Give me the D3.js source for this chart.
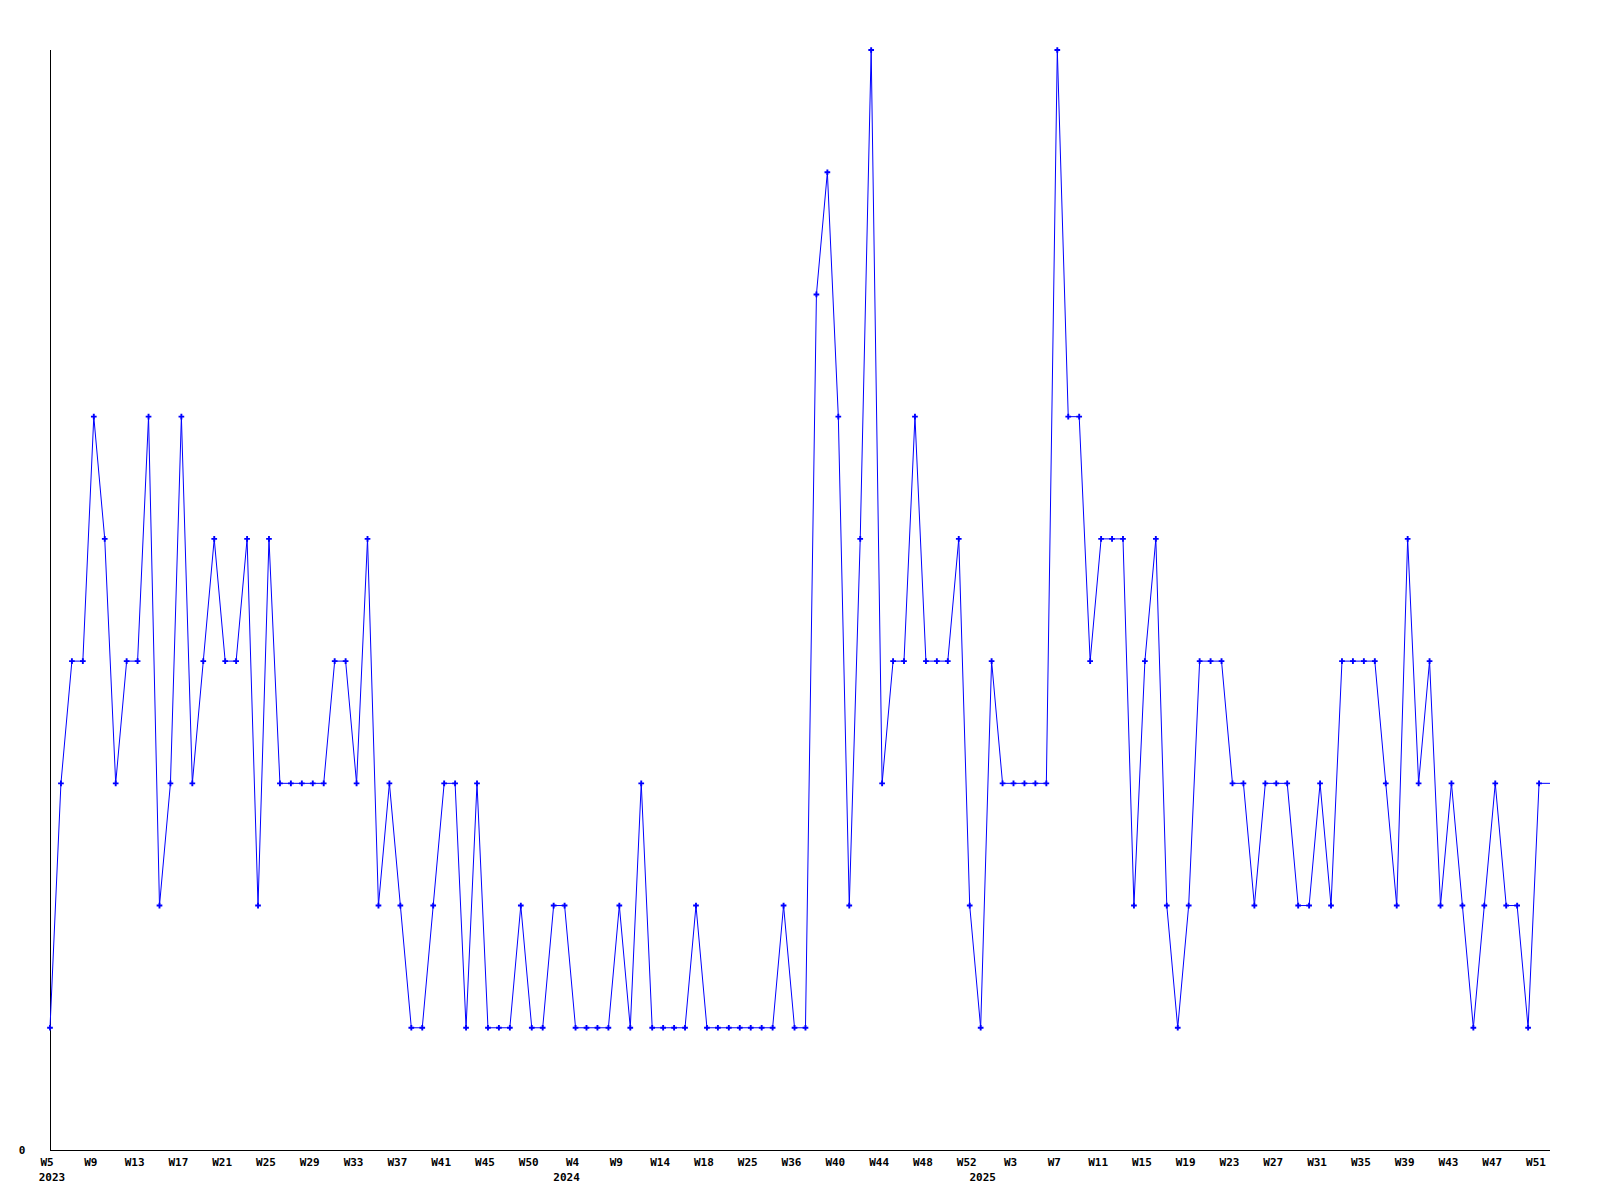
<!DOCTYPE html>
<html>
<head>
<meta charset="utf-8">
<script src="https://cdn.jsdelivr.net/npm/d3@7"></script>
<style>
  body { margin: 0; background: #fff; }
  text { font-family: "DejaVu Sans Mono", monospace; font-size: 11px; font-weight: bold; fill: #000; }
</style>
</head>
<body>
<script>

// weekly counts, one entry per category (weeks with no entry are not in the list)
var values = [1,3,4,4,6,5,3,4,4,6,2,3,6,3,4,5,4,4,5,2,5,3,3,
              3,3,3,4,4,3,5,2,3,2,1,1,2,3,3,1,3,1,1,1,2,1,
              1,2,2,1,1,1,1,2,1,3,1,1,1,1,2,1,1,1,1,1,1,1,2,1,1,
              7,8,6,2,5,9,3,4,4,6,4,4,4,5,2,1,4,3,3,3,3,3,
              9,6,6,4,5,5,5,2,4,5,2,1,2,4,4,4,3,3,2,3,3,3,2,
              2,3,2,4,4,4,4,3,2,5,3,4,2,3,2,1,2,3,2,2,1,3,
              3];

// the category index of each point
var categories = d3.range(values.length);

// week label every 4th category
var weekLabels = ["W5","W9","W13","W17","W21","W25","W29","W33","W37","W41","W45","W50",
                  "W4","W9","W14","W18","W25","W36","W40","W44","W48","W52",
                  "W3","W7","W11","W15","W19","W23","W27","W31","W35","W39","W43","W47","W51"];
var labelSkip = 4;

// year labels under the first category of each year
var yearLabels = ["2023","2024","2025"];
var yearStart = [0,47,85];

var yLabels = [0];
var yMax = 9;

var width = 1600;
var height = 1200;

var svg = d3.select("body")
            .append("svg")
            .attr("width", width)
            .attr("height", height);

var x = d3.scaleLinear()
          .domain([0, categories.length-1])
          .range([50, 1550]);

var y = d3.scaleLinear()
          .domain([0, yMax])
          .range([1150, 50]);

// axes lines
svg.append("line")
   .attr("x1", x(0)).attr("x2", x(0))
   .attr("y1", y(yMax)).attr("y2", y(0))
   .attr("stroke", "#000")
   .attr("shape-rendering", "crispEdges");

svg.append("line")
   .attr("x1", x(0)).attr("x2", x(categories.length-1))
   .attr("y1", y(0)).attr("y2", y(0))
   .attr("stroke", "#000")
   .attr("shape-rendering", "crispEdges");

// y label(s)
svg.selectAll(".ylab")
   .data(yLabels)
   .enter()
   .append("text")
   .attr("class", "ylab")
   .attr("x", 22)
   .attr("y", function(d){ return y(d); })
   .attr("dy", "0.35em")
   .attr("text-anchor", "middle")
   .text(function(d){ return d; });

// week labels
svg.selectAll(".wlab")
   .data(weekLabels)
   .enter()
   .append("text")
   .attr("class", "wlab")
   .attr("x", function(d,i){ return x(i*labelSkip) - 3; })
   .attr("y", 1162)
   .attr("dy", "0.35em")
   .attr("text-anchor", "middle")
   .text(function(d){ return d; });

// year labels
svg.selectAll(".ylab2")
   .data(yearLabels)
   .enter()
   .append("text")
   .attr("class", "ylab2")
   .attr("x", function(d,i){ return x(yearStart[i]) + 2; })
   .attr("y", 1177)
   .attr("dy", "0.35em")
   .attr("text-anchor", "middle")
   .text(function(d){ return d; });

// the line
var line = d3.line()
             .x(function(d,i){ return x(i); })
             .y(function(d){ return y(d); });

svg.append("path")
   .datum(values)
   .attr("d", line)
   .attr("fill", "none")
   .attr("stroke", "#0000ff")
   .attr("stroke-width", 1);

// markers (last point is the running week, no marker)
var marker = d3.symbol().type(d3.symbolCross).size(18);

svg.selectAll(".pt")
   .data(values.slice(0, values.length-1))
   .enter()
   .append("path")
   .attr("class", "pt")
   .attr("d", marker)
   .attr("transform", function(d,i){ return "translate(" + x(i) + "," + y(d) + ")"; })
   .attr("fill", "#0000ff");

</script>
</body>
</html>
